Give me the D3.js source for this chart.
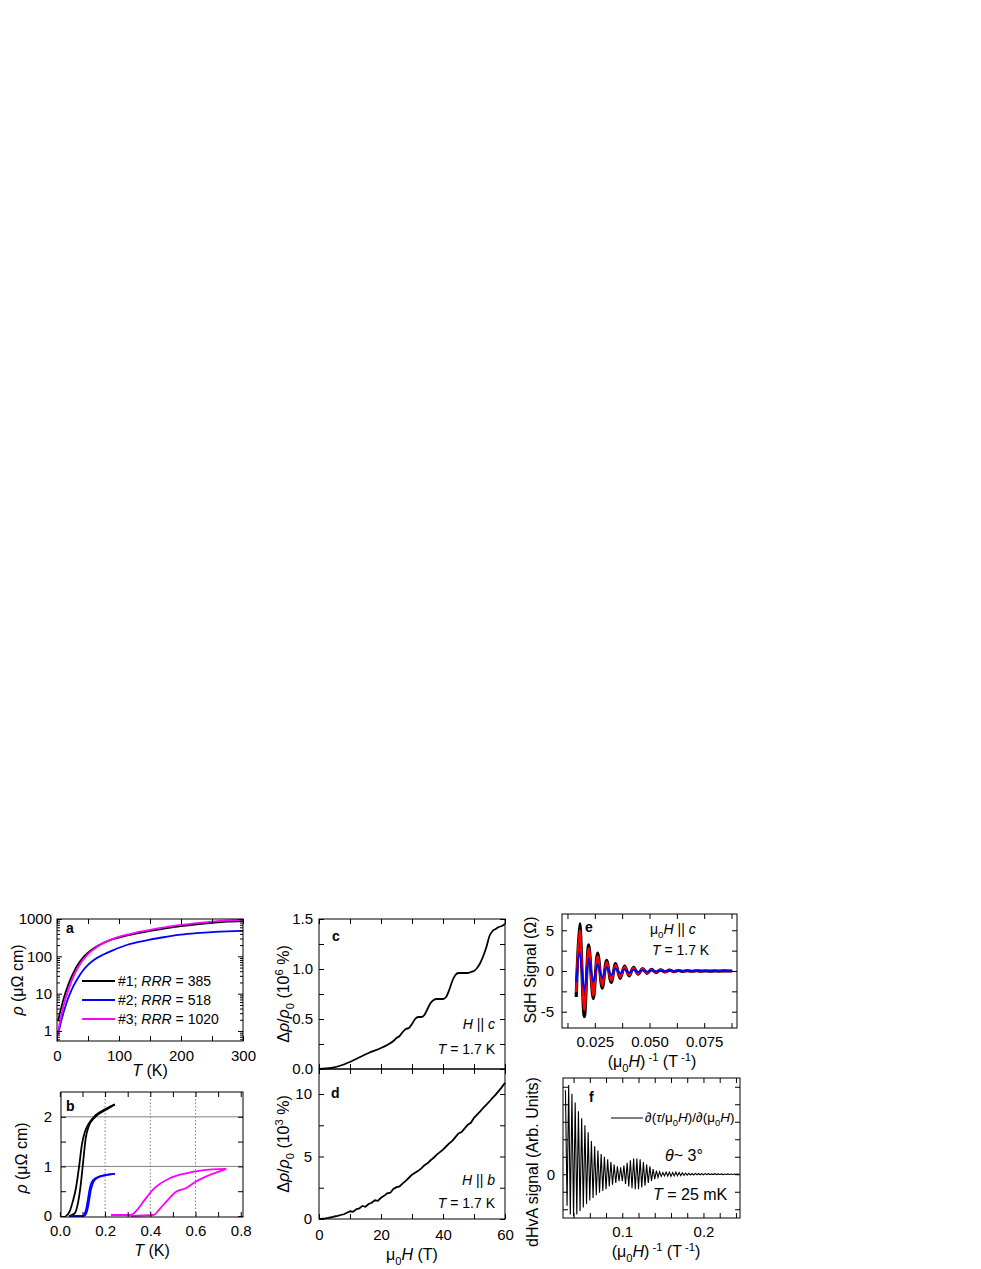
<!DOCTYPE html>
<html><head><meta charset="utf-8">
<script src="https://cdn.jsdelivr.net/npm/d3@7"></script>
<style>body{margin:0;background:#fff} text{white-space:pre}</style>
</head><body>
<script>
// ---------------- DATA ----------------
// Panel a: resistivity vs T (log scale)
const aT      = [1.5, 3, 5, 8, 11, 14, 18, 22, 27, 33, 41, 50, 60, 75, 90, 110, 130, 150, 175, 200, 225, 250, 275, 300];
const aBlack  = [1.82, 2.29, 3.16, 5.0, 7.6, 11, 17, 25, 38, 58, 89, 126, 166, 229, 288, 355, 417, 479, 562, 646, 724, 794, 851, 881];
const aBlue   = [0.79, 1.0, 1.41, 2.19, 3.31, 4.79, 7.59, 11, 16.6, 25.1, 39.8, 58.9, 81.3, 112, 145, 195, 240, 282, 331, 380, 417, 447, 468, 479];
const aMag    = [0.79, 1.2, 1.82, 3.16, 5.0, 7.6, 12, 18.6, 29.5, 46.8, 75.9, 115, 158, 229, 295, 372, 442, 513, 603, 692, 776, 851, 912, 955];
const aLegend = [["#1; ", "RRR", " = 385"], ["#2; ", "RRR", " = 518"], ["#3; ", "RRR", " = 1020"]];
const aXTicks = [0, 50, 100, 150, 200, 250, 300];
const aXLabels = [0, 100, 200, 300];
const aYTicks = [1, 10, 100, 1000];
const aYMinor = [0.6, 0.7, 0.8, 0.9, 2, 3, 4, 5, 6, 7, 8, 9, 20, 30, 40, 50, 60, 70, 80, 90, 200, 300, 400, 500, 600, 700, 800, 900];

// Panel b: low-T transitions
const bBlackA_T = [0.026, 0.043, 0.057, 0.071, 0.086, 0.097, 0.111, 0.129, 0.157, 0.2, 0.243];
const bBlackA_R = [0, 0.09, 0.29, 0.56, 1.03, 1.43, 1.70, 1.87, 2.03, 2.15, 2.25];
const bBlackB_T = [0.04, 0.065, 0.08, 0.092, 0.103, 0.114, 0.127, 0.157, 0.2, 0.243];
const bBlackB_R = [0, 0.05, 0.26, 0.62, 1.09, 1.56, 1.80, 2.0, 2.13, 2.25];
const bBlueA_T  = [0.043, 0.1, 0.11, 0.117, 0.124, 0.13, 0.136, 0.146, 0.171, 0.243];
const bBlueA_R  = [0, 0, 0.05, 0.15, 0.33, 0.5, 0.62, 0.72, 0.79, 0.85];
const bBlueB_T  = [0.043, 0.106, 0.116, 0.123, 0.13, 0.136, 0.143, 0.153, 0.18, 0.243];
const bBlueB_R  = [0, 0, 0.05, 0.15, 0.33, 0.5, 0.62, 0.72, 0.8, 0.85];
const bMagA_T   = [0.226, 0.314, 0.343, 0.371, 0.414, 0.486, 0.557, 0.629, 0.736];
const bMagA_R   = [0.02, 0.02, 0.13, 0.30, 0.54, 0.76, 0.86, 0.92, 0.95];
const bMagB_T   = [0.314, 0.414, 0.443, 0.471, 0.514, 0.557, 0.6, 0.643, 0.7, 0.736];
const bMagB_R   = [0, 0.02, 0.15, 0.29, 0.49, 0.56, 0.69, 0.79, 0.89, 0.95];
const bXTicks = [0, 0.1, 0.2, 0.3, 0.4, 0.5, 0.6, 0.7, 0.8];
const bXLabels = [0, 0.2, 0.4, 0.6, 0.8];
const bYTicks = [0, 0.5, 1, 1.5, 2];
const bYLabels = [0, 1, 2];
const bHGrid = [1, 2];
const bVGrid = [0.2, 0.4, 0.6];

// Panel c: magnetoresistance H || c
const cH   = [0, 4, 8, 12, 16, 20, 22, 24, 25, 26, 27, 28, 29, 30, 31, 32, 33, 34, 35, 36, 37, 38, 39, 40, 41, 42, 43, 44, 45, 46, 47, 48, 49, 50, 51, 52, 53, 54, 55, 56, 57, 58, 59, 60];
const cVal = [0, 0.01, 0.045, 0.1, 0.16, 0.21, 0.24, 0.28, 0.31, 0.33, 0.37, 0.40, 0.41, 0.45, 0.50, 0.52, 0.52, 0.54, 0.60, 0.66, 0.69, 0.70, 0.70, 0.70, 0.72, 0.79, 0.88, 0.94, 0.96, 0.96, 0.96, 0.96, 0.97, 0.98, 1.01, 1.06, 1.13, 1.22, 1.33, 1.38, 1.40, 1.42, 1.43, 1.45];
const cXTicks = [0, 10, 20, 30, 40, 50, 60];
const cYTicks = [0, 0.25, 0.5, 0.75, 1, 1.25, 1.5];
const cYLabels = [0, 0.5, 1, 1.5];

// Panel d: magnetoresistance H || b (field 0..60 T in 1 T steps)
const dH   = [0,1,2,3,4,5,6,7,8,9,10,11,12,13,14,15,16,17,18,19,20,21,22,23,24,25,26,27,28,29,30,31,32,33,34,35,36,37,38,39,40,41,42,43,44,45,46,47,48,49,50,51,52,53,54,55,56,57,58,59,60];
const dVal = [0,0.02,0.05,0.09,0.14,0.2,0.25,0.32,0.38,0.5,0.62,0.58,0.78,0.85,1.05,0.98,1.2,1.3,1.5,1.45,1.7,1.85,2.05,2.1,2.4,2.55,2.6,2.85,3.05,3.3,3.55,3.7,3.85,4.05,4.3,4.45,4.7,4.9,5.15,5.35,5.55,5.8,6.05,6.25,6.55,6.85,6.95,7.25,7.55,7.7,8.1,8.35,8.6,8.9,9.15,9.4,9.7,9.95,10.25,10.55,10.9];
const dXTicks = [0, 10, 20, 30, 40, 50, 60];
const dXLabels = [0, 20, 40, 60];
const dYTicks = [0, 2.5, 5, 7.5, 10];
const dYLabels = [0, 5, 10];

// Panel e: SdH oscillations (peaks / troughs)
const eX     = [0.0165, 0.0181, 0.0202, 0.0222, 0.0243, 0.0263, 0.0284, 0.0304, 0.0325, 0.0345, 0.0366, 0.0386, 0.0407, 0.0427, 0.0448, 0.0468, 0.0489, 0.0509, 0.0530, 0.0550, 0.0571, 0.0591, 0.0612, 0.0632, 0.0653, 0.0673, 0.0694, 0.0714, 0.0735, 0.0755, 0.0776, 0.0796, 0.0817, 0.0837, 0.0858, 0.0878];
const eBlack = [-3.2, 5.8, -5.6, 3.2, -3.4, 2.2, -2.1, 1.3, -1.4, 0.9, -0.9, 0.6, -0.6, 0.45, -0.4, 0.3, -0.3, 0.2, -0.2, 0.15, -0.12, 0.1, -0.08, 0.06, -0.05, 0.04, -0.03, 0.03, -0.02, 0.02, -0.02, 0.01, -0.01, 0.01, 0, 0];
const eRed   = [-2.6, 5.0, -4.8, 2.8, -3.0, 1.8, -1.8, 1.1, -1.2, 0.75, -0.75, 0.5, -0.5, 0.38, -0.35, 0.25, -0.25, 0.17, -0.16, 0.12, -0.1, 0.08, -0.07, 0.05, -0.04, 0.03, -0.03, 0.02, -0.02, 0.01, -0.01, 0.01, -0.01, 0, 0, 0];
const eBlue  = [-1.4, 2.3, -2.4, 1.5, -1.3, 0.8, -0.8, 0.45, -0.5, 0.3, -0.3, 0.2, -0.2, 0.15, -0.12, 0.1, -0.08, 0.06, -0.05, 0.04, -0.03, 0.02, -0.02, 0.01, -0.01, 0.01, 0, 0, 0, 0, 0, 0, 0, 0, 0, 0];
const eXTicks = [0.0125, 0.025, 0.0375, 0.05, 0.0625, 0.075, 0.0875];
const eXLabels = [0.025, 0.05, 0.075];
const eYTicks = [-5, -2.5, 0, 2.5, 5];
const eYLabels = [-5, 0, 5];

// Panel f: dHvA signal, alternating extrema sampled every half period starting at fStart
const fStart = 0.030, fHalfPeriod = 0.002;
const fVals = [4.8, -1.8, 5.1, -2.3, 4.6, -2.4, 4.1, -2.3, 3.6, -2.1,
  3.2, -1.9, 2.8, -1.7, 2.4, -1.5, 1.9, -1.35, 1.6, -1.2,
  1.35, -1.05, 1.15, -0.95, 1.0, -0.85, 0.85, -0.7, 0.7, -0.6,
  0.55, -0.5, 0.45, -0.4, 0.4, -0.4, 0.5, -0.55, 0.65, -0.7,
  0.8, -0.8, 0.9, -0.85, 0.9, -0.85, 0.85, -0.75, 0.7, -0.65,
  0.55, -0.5, 0.45, -0.38, 0.3, -0.28, 0.2, -0.18, 0.14, -0.12,
  0.1, -0.1, 0.12, -0.1, 0.12, -0.12, 0.1, -0.1, 0.12, -0.08,
  0.1, -0.08, 0.08, -0.06, 0.06, -0.05, 0.05, -0.04, 0.04, -0.04,
  0.05, -0.03, 0.04, -0.03, 0.03, -0.03, 0.04, -0.02, 0.03, -0.02,
  0.02, -0.02, 0.03, -0.02, 0.02, -0.01, 0.02, -0.02, 0.01, -0.01,
  0.02, -0.01, 0.01, -0.01, 0.01, 0.0, 0.01, 0.0];
const fXTicks = [0.04, 0.06, 0.08, 0.1, 0.12, 0.14, 0.16, 0.18, 0.2, 0.22, 0.24];
const fXLabels = [0.1, 0.2];
const fYTicks = [-2, -1, 0, 1, 2, 3, 4, 5];
const fYLabels = [0];

// ---------------- DRAWING ----------------
const FONT = '"Liberation Sans", Arial, Helvetica, sans-serif';
const TICK_FS = 15, TITLE_FS = 16;
const svg = d3.select('body').append('svg').attr('width', 981).attr('height', 1269)
  .style('font-family', FONT);

function rich(parent, x, y, parts, fs, anchor, rotate) {
  const t = parent.append('text').attr('font-size', fs).attr('text-anchor', anchor || 'start')
    .attr('font-family', FONT).attr('fill', '#000');
  if (rotate) t.attr('transform', `translate(${x},${y}) rotate(-90)`); else t.attr('x', x).attr('y', y);
  let cur = 0;
  parts.forEach(p => {
    const s = typeof p === 'string' ? p : p[0];
    const st = typeof p === 'string' ? '' : p[1];
    const ts = t.append('tspan').text(s);
    let target = 0;
    if (st.includes('_')) { target = fs * 0.3; ts.attr('font-size', fs * 0.7); }
    if (st.includes('^')) { target = -fs * 0.4; ts.attr('font-size', fs * 0.7); }
    if (st.includes('i')) ts.attr('font-style', 'italic');
    if (st.includes('b')) ts.attr('font-weight', 'bold');
    if (target !== cur) { ts.attr('dy', target - cur); cur = target; }
  });
  return t;
}

function drawAxes(g, X, Y, w, h, s) {
  const L = 5;
  const lab = (arr, fmt) => d => arr.some(v => Math.abs(v - d) < 1e-9) ? fmt(d) : '';
  const style = sel => {
    sel.select('.domain').remove();
    sel.attr('font-family', FONT).attr('font-size', TICK_FS);
    sel.selectAll('line').attr('stroke', '#000');
    sel.selectAll('text').attr('fill', '#000');
  };
  g.append('g').attr('transform', `translate(0,${h})`)
    .call(d3.axisBottom(X).tickValues(s.xAll).tickSize(-L).tickPadding(s.xPad || 9)
      .tickFormat(lab(s.xLab || [], s.xFmt || (d => d)))).call(style);
  g.append('g').call(d3.axisTop(X).tickValues(s.xAll).tickSize(-L).tickFormat('')).call(style);
  g.append('g').call(d3.axisLeft(Y).tickValues(s.yAll).tickSize(-L).tickPadding(s.yPad || 7)
    .tickFormat(lab(s.yLab || [], s.yFmt || (d => d)))).call(style);
  g.append('g').attr('transform', `translate(${w},0)`)
    .call(d3.axisRight(Y).tickValues(s.yAll).tickSize(-L).tickFormat('')).call(style);
  if (s.yMinor) {
    g.append('g').call(d3.axisLeft(Y).tickValues(s.yMinor).tickSize(-3).tickFormat('')).call(style);
    g.append('g').attr('transform', `translate(${w},0)`)
      .call(d3.axisRight(Y).tickValues(s.yMinor).tickSize(-3).tickFormat('')).call(style);
  }
  g.append('rect').attr('width', w).attr('height', h).attr('fill', 'none')
    .attr('stroke', '#000').attr('stroke-width', 1);
}

function panel(x, y) {
  return svg.append('g').attr('transform', `translate(${x},${y})`);
}
const zip = (xs, ys) => xs.map((v, i) => [v, ys[i]]);

// ---- Panel a ----
{
  const W = 186, H = 122;
  const g = panel(57, 919);
  const X = d3.scaleLinear().domain([0, 300]).range([0, W]);
  const Y = d3.scaleLog().domain([0.54, 1000]).range([H, 0]);
  const line = d3.line().x(d => X(d[0])).y(d => Y(d[1])).curve(d3.curveMonotoneX);
  [[aBlue, '#0000ff'], [aBlack, '#000'], [aMag, '#ff00ff']].forEach(([v, c]) =>
    g.append('path').attr('d', line(zip(aT, v))).attr('fill', 'none').attr('stroke', c).attr('stroke-width', 1.8));
  drawAxes(g, X, Y, W, H, { xAll: aXTicks, xLab: aXLabels, xFmt: d => String(d), xPad: 9,
    yAll: aYTicks, yLab: aYTicks, yFmt: d => String(d), yPad: 5, yMinor: aYMinor });
  const colors = ['#000', '#0000ff', '#ff00ff'];
  aLegend.forEach((p, i) => {
    const yy = 62 + i * 19;
    g.append('line').attr('x1', 25).attr('x2', 58).attr('y1', yy).attr('y2', yy)
      .attr('stroke', colors[i]).attr('stroke-width', 2);
    rich(g, 61, yy + 5, [p[0], [p[1], 'i'], p[2]], 14);
  });
  rich(g, 9, 14, [['a', 'b']], 14);
  rich(svg, 150, 1076, [['T', 'i'], ' (K)'], TITLE_FS, 'middle');
  rich(svg, 23, 980, [['ρ', 'i'], ' (μΩ cm)'], TITLE_FS, 'middle', true);
}

// ---- Panel b ----
{
  const W = 182, H = 125;
  const g = panel(61, 1092);
  const X = d3.scaleLinear().domain([0.005, 0.81]).range([0, W]);
  const Y = d3.scaleLinear().domain([-0.02, 2.5]).range([H, 0]);
  bHGrid.forEach(v => g.append('line').attr('x1', 0).attr('x2', W).attr('y1', Y(v)).attr('y2', Y(v))
    .attr('stroke', '#808080').attr('stroke-width', 1));
  bVGrid.forEach(v => g.append('line').attr('x1', X(v)).attr('x2', X(v)).attr('y1', 0).attr('y2', H)
    .attr('stroke', '#808080').attr('stroke-width', 1).attr('stroke-dasharray', '1.5,2'));
  const line = d3.line().x(d => X(d[0])).y(d => Y(d[1])).curve(d3.curveMonotoneX);
  const curves = [[bBlackA_T, bBlackA_R, '#000'], [bBlackB_T, bBlackB_R, '#000'],
    [bBlueA_T, bBlueA_R, '#0000ff'], [bBlueB_T, bBlueB_R, '#0000ff'],
    [bMagA_T, bMagA_R, '#ff00ff'], [bMagB_T, bMagB_R, '#ff00ff']];
  curves.forEach(([t, r, c]) => g.append('path').attr('d', line(zip(t, r))).attr('fill', 'none')
    .attr('stroke', c).attr('stroke-width', 1.8));
  drawAxes(g, X, Y, W, H, { xAll: bXTicks, xLab: bXLabels, xFmt: d3.format('.1f'), xPad: 8,
    yAll: bYTicks, yLab: bYLabels, yFmt: d => String(d), yPad: 9 });
  rich(g, 5, 19, [['b', 'b']], 14);
  rich(svg, 152, 1256, [['T', 'i'], ' (K)'], TITLE_FS, 'middle');
  rich(svg, 27, 1158, [['ρ', 'i'], ' (μΩ cm)'], TITLE_FS, 'middle', true);
}

// ---- Panel c ----
{
  const W = 186, H = 150;
  const g = panel(319, 919);
  const X = d3.scaleLinear().domain([0, 60]).range([0, W]);
  const Y = d3.scaleLinear().domain([0, 1.5]).range([H, 0]);
  const line = d3.line().x(d => X(d[0])).y(d => Y(d[1])).curve(d3.curveMonotoneX);
  g.append('path').attr('d', line(zip(cH, cVal))).attr('fill', 'none').attr('stroke', '#000').attr('stroke-width', 1.8);
  drawAxes(g, X, Y, W, H, { xAll: cXTicks, xLab: [], yAll: cYTicks, yLab: cYLabels,
    yFmt: d3.format('.1f'), yPad: 6 });
  rich(g, 13, 22, [['c', 'b']], 14);
  rich(g, 176, 110, [['H', 'i'], ' || ', ['c', 'i']], 14, 'end');
  rich(g, 176, 135, [['T', 'i'], ' = 1.7 K'], 14, 'end');
  rich(svg, 289, 994, ['Δ', ['ρ', 'i'], '/', ['ρ', 'i'], ['0', '_'], ' (10', ['6', '^'], ' %)'], TITLE_FS, 'middle', true);
}

// ---- Panel d ----
{
  const W = 186, H = 150;
  const g = panel(319, 1069);
  const X = d3.scaleLinear().domain([0, 60]).range([0, W]);
  const Y = d3.scaleLinear().domain([0, 12]).range([H, 0]);
  const line = d3.line().x(d => X(d[0])).y(d => Y(d[1]));
  g.append('path').attr('d', line(zip(dH, dVal))).attr('fill', 'none').attr('stroke', '#000').attr('stroke-width', 1.8);
  drawAxes(g, X, Y, W, H, { xAll: dXTicks, xLab: dXLabels, xFmt: d => String(d), xPad: 10,
    yAll: dYTicks, yLab: dYLabels, yFmt: d => String(d), yPad: 7 });
  rich(g, 12, 29, [['d', 'b']], 14);
  rich(g, 176, 116, [['H', 'i'], ' || ', ['b', 'i']], 14, 'end');
  rich(g, 176, 139, [['T', 'i'], ' = 1.7 K'], 14, 'end');
  rich(svg, 412, 1260, ['μ', ['0', '_'], ['H', 'i'], ' (T)'], TITLE_FS, 'middle');
  rich(svg, 289, 1144, ['Δ', ['ρ', 'i'], '/', ['ρ', 'i'], ['0', '_'], ' (10', ['3', '^'], ' %)'], TITLE_FS, 'middle', true);
}

// ---- Panel e ----
{
  const W = 175, H = 114;
  const g = panel(562, 914);
  const X = d3.scaleLinear().domain([0.01, 0.09]).range([0, W]);
  const Y = d3.scaleLinear().domain([-7, 7]).range([H, 0]);
  const line = d3.line().x(d => X(d[0])).y(d => Y(d[1])).curve(d3.curveCatmullRom.alpha(0.5));
  [[eBlack, '#000', 3.2], [eRed, '#ff0000', 2.4], [eBlue, '#0000ff', 2]].forEach(([v, c, sw]) =>
    g.append('path').attr('d', line(zip(eX, v))).attr('fill', 'none').attr('stroke', c).attr('stroke-width', sw));
  drawAxes(g, X, Y, W, H, { xAll: eXTicks, xLab: eXLabels, xFmt: d3.format('.3f'), xPad: 8,
    yAll: eYTicks, yLab: eYLabels, yFmt: d => String(d), yPad: 8 });
  rich(g, 23, 18, [['e', 'b']], 14);
  rich(g, 88, 20, ['μ', ['0', '_'], ['H', 'i'], ' || ', ['c', 'i']], 14);
  rich(g, 90, 41, [['T', 'i'], ' = 1.7 K'], 14);
  rich(svg, 652, 1067, ['(μ', ['0', '_'], ['H', 'i'], ')', [' -1', '^'], ' (T', [' -1', '^'], ')'], TITLE_FS, 'middle');
  rich(svg, 536, 970, ['SdH Signal (Ω)'], TITLE_FS, 'middle', true);
}

// ---- Panel f ----
{
  const W = 177, H = 140;
  const g = panel(563, 1078);
  const X = d3.scaleLinear().domain([0.027, 0.245]).range([0, W]);
  const Y = d3.scaleLinear().domain([-2.5, 5.5]).range([H, 0]);
  const pts = fVals.map((v, i) => [fStart + i * fHalfPeriod, v]);
  const line = d3.line().x(d => X(d[0])).y(d => Y(d[1]));
  g.append('path').attr('d', line(pts)).attr('fill', 'none').attr('stroke', '#000').attr('stroke-width', 1.1);
  drawAxes(g, X, Y, W, H, { xAll: fXTicks, xLab: fXLabels, xFmt: d3.format('.1f'), xPad: 8,
    yAll: fYTicks, yLab: fYLabels, yFmt: d => String(d), yPad: 8 });
  rich(g, 26, 24, [['f', 'b']], 14);
  g.append('line').attr('x1', 48).attr('x2', 80).attr('y1', 40).attr('y2', 40).attr('stroke', '#000').attr('stroke-width', 1);
  rich(g, 82, 44, ['∂(', ['τ', 'i'], '/μ', ['0', '_'], ['H', 'i'], ')/∂(μ', ['0', '_'], ['H', 'i'], ')'], 13.5);
  rich(g, 102, 83, [['θ', 'i'], '~ 3°'], 16);
  rich(g, 90, 122, [['T', 'i'], ' = 25 mK'], 16);
  rich(svg, 656, 1257, ['(μ', ['0', '_'], ['H', 'i'], ')', [' -1', '^'], ' (T', [' -1', '^'], ')'], TITLE_FS, 'middle');
  rich(svg, 538, 1162, ['dHvA signal (Arb. Units)'], TITLE_FS, 'middle', true);
}
</script>
</body></html>
